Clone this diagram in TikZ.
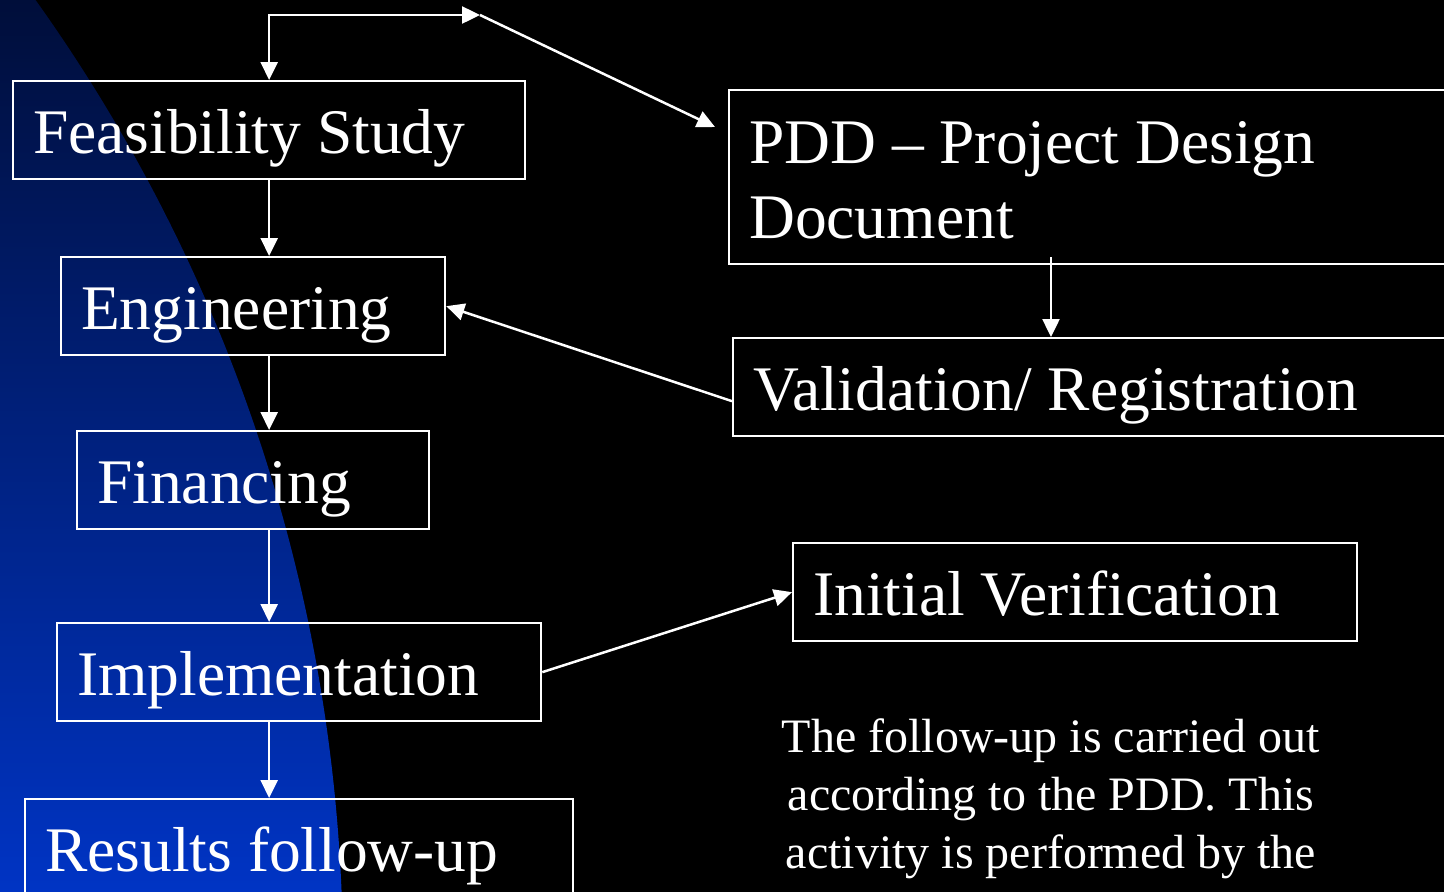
\documentclass[tikz,border=0pt]{standalone}
\usepackage{fontspec}
\setmainfont{Liberation Serif}
\usetikzlibrary{arrows.meta}
\definecolor{navytop}{RGB}{0,14,58}
\definecolor{bluebottom}{RGB}{0,52,196}
\begin{document}
\begin{tikzpicture}[x=1pt,y=-1pt,
  stage/.style={draw=white, line width=2.3pt, text=white, anchor=north west,
    inner xsep=20pt, inner ysep=0pt, align=flush left,
    text height=72pt, text depth=26pt,
    font=\fontsize{63.5pt}{75pt}\selectfont},
  flow/.style={draw=white, line width=2.5pt, -{Triangle[length=18pt,width=17pt]}},
  twoway/.style={draw=white, line width=2.5pt,
    {Triangle[length=18pt,width=17pt]}-{Triangle[length=18pt,width=17pt]}},
  note/.style={text=white, anchor=base, align=flush center, text width=640pt,
    font=\fontsize{48pt}{58pt}\selectfont\frenchspacing},
]
\useasboundingbox (0,0) rectangle (1444,892);
\clip (0,0) rectangle (1444,892);

% background: black slide with a large blue disc on the left
\fill[black] (0,0) rectangle (1444,892);
\begin{scope}
  \clip (-1312,961) circle[radius=1655pt];
  \shade[top color=navytop, bottom color=bluebottom] (0,0) rectangle (1444,892);
\end{scope}

% project stages
\node[stage, text width=472pt] (feas) at (12,80) {Feasibility Study};
\node[stage, text width=344pt] (eng)  at (60,256) {Engineering};
\node[stage, text width=312pt] (fin)  at (76,430) {Financing};
\node[stage, text width=444pt] (impl) at (56,622) {Implementation};
\node[stage, text width=508pt] (res)  at (24,798) {Results follow-up};

\node[stage, text width=722pt, text height=73pt, text depth=101pt] (pdd) at (728,89)
  {PDD – Project Design\\Document};
\node[stage, text width=718pt] (val) at (732,337) {Validation/ Registration};
\node[stage, text width=524pt] (iv)  at (792,542) {Initial Verification};

\node[note] (txt) at (1051,752)
  {The follow-up is carried out\\according to the PDD. This\\activity is performed by the};

% connectors
\coordinate (loop) at (480,15);
\coordinate (pddin) at (715,127);
\coordinate (pddout) at (1051,257);

\draw[twoway] (feas.north) |- (loop);
\draw[flow] (loop) -- (pddin);

\draw[flow] (feas.south) -- (feas.south |- eng.north);
\draw[flow] (feas.south |- eng.south) -- (feas.south |- fin.north);
\draw[flow] (feas.south |- fin.south) -- (feas.south |- impl.north);
\draw[flow] (feas.south |- impl.south) -- (feas.south |- res.north);

\draw[flow] (pddout) -- (pddout |- val.north);
\draw[flow] ([yshift=-14pt]val.west) -- (eng.east);
\draw[flow] (impl.east) -- (iv.west);
\end{tikzpicture}
\end{document}
